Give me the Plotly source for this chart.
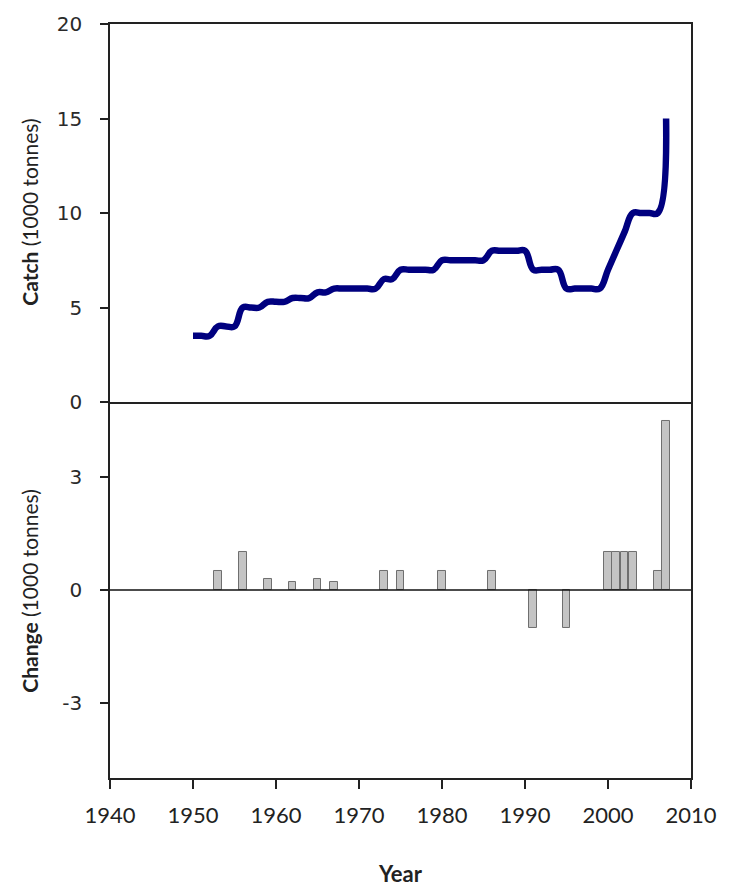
import plotly.graph_objects as go

# Annual catch (1000 tonnes)
years = list(range(1950, 2008))
catch = [3.5, 3.5, 3.5, 4.0, 4.0, 4.0, 5.0, 5.0, 5.0, 5.3,
         5.3, 5.3, 5.5, 5.5, 5.5, 5.8, 5.8, 6.0, 6.0, 6.0,
         6.0, 6.0, 6.0, 6.5, 6.5, 7.0, 7.0, 7.0, 7.0, 7.0,
         7.5, 7.5, 7.5, 7.5, 7.5, 7.5, 8.0, 8.0, 8.0, 8.0,
         8.0, 7.0, 7.0, 7.0, 7.0, 6.0, 6.0, 6.0, 6.0, 6.0,
         7.0, 8.0, 9.0, 10.0, 10.0, 10.0, 10.0, 15.0]

# Year-on-year change in catch (1000 tonnes)
change_years = [1953, 1956, 1959, 1962, 1965, 1967, 1973, 1975, 1980, 1986,
                1991, 1995, 2000, 2001, 2002, 2003, 2006, 2007]
change = [0.5, 1.0, 0.3, 0.2, 0.3, 0.2, 0.5, 0.5, 0.5, 0.5,
          -1.0, -1.0, 1.0, 1.0, 1.0, 1.0, 0.5, 4.5]

x_ticks = [1940, 1950, 1960, 1970, 1980, 1990, 2000, 2010]

W, H = 729, 890
L, R, T, B = 110, 29, 22, 112
plot_w = W - L - R
plot_h = H - T - B
split = 377 / plot_h

ink = "#222222"
tick_font = dict(family="DejaVu Sans", size=20, color="#2a2a2a")
label_font = dict(family="Lato", size=21, color=ink)

fig = go.Figure()

fig.add_trace(go.Scatter(
    x=years, y=catch, mode="lines",
    line=dict(color="#00007f", width=6.5, shape="spline", smoothing=1.2),
    xaxis="x2", yaxis="y2", showlegend=False,
))

fig.add_trace(go.Bar(
    x=change_years, y=change, width=0.92,
    marker=dict(color="#c4c4c4", line=dict(color="#6f6f6f", width=1)),
    xaxis="x", yaxis="y", showlegend=False,
))

axis_line = dict(showline=True, linecolor=ink, linewidth=1.5,
                 showgrid=False, zeroline=False)

fig.update_layout(
    width=W, height=H,
    margin=dict(l=L, r=R, t=T, b=B, pad=0),
    plot_bgcolor="white", paper_bgcolor="white",
    bargap=0,
    xaxis=dict(
        **axis_line, domain=[0, 1], anchor="y", range=[1940, 2010],
        tickvals=x_ticks, ticks="outside", ticklen=9, tickwidth=1.5,
        tickcolor=ink, mirror=False, ticklabelstandoff=8,
        tickfont=dict(family="Lato", size=22, color=ink),
    ),
    yaxis=dict(
        **axis_line, domain=[0, split], anchor="x", range=[-5, 5],
        tickvals=[-3, 0, 3], ticktext=["-3", "0", "3"],
        ticks="outside", ticklen=8, tickwidth=1.5, tickcolor=ink,
        mirror=True, tickfont=tick_font, ticklabelstandoff=14,
    ),
    xaxis2=dict(
        **axis_line, domain=[0, 1], anchor="y2", range=[1940, 2010],
        matches="x", showticklabels=False, ticks="", mirror=True,
    ),
    yaxis2=dict(
        **axis_line, domain=[split, 1], anchor="x2", range=[0, 20],
        tickvals=[0, 5, 10, 15, 20], ticks="outside", ticklen=8,
        tickwidth=1.5, tickcolor=ink, mirror=True, tickfont=tick_font,
        ticklabelstandoff=14,
    ),
    shapes=[dict(type="line", xref="x", yref="y", x0=1940, x1=2010,
                 y0=0, y1=0, line=dict(color="#111111", width=1.5))],
    annotations=[
        dict(text="<b>Catch</b> (1000 tonnes)", textangle=-90,
             xref="paper", yref="paper", x=(28 - L) / plot_w,
             y=(H - B - 211) / plot_h, xanchor="center", yanchor="middle",
             showarrow=False, font=label_font),
        dict(text="<b>Change</b> (1000 tonnes)", textangle=-90,
             xref="paper", yref="paper", x=(28 - L) / plot_w,
             y=(H - B - 590) / plot_h, xanchor="center", yanchor="middle",
             showarrow=False, font=label_font),
        dict(text="<b>Year</b>", xref="paper", yref="paper",
             x=(405 - L) / plot_w, y=(H - B - 874) / plot_h,
             xanchor="center", yanchor="middle", showarrow=False,
             font=dict(family="Lato", size=22, color=ink)),
    ],
)

fig.write_html("out.html")
